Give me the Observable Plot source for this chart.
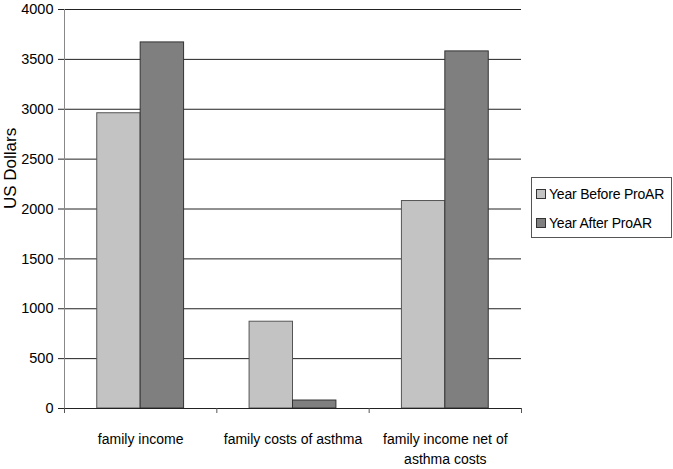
<!DOCTYPE html>
<html>
<head>
<meta charset="utf-8">
<script src="https://cdn.jsdelivr.net/npm/d3@7"></script>
<script src="https://cdn.jsdelivr.net/npm/@observablehq/plot@0.6"></script>
<style>
  html, body { margin: 0; padding: 0; background: #fff; }
  #wrap { position: relative; width: 673px; height: 469px; font-family: "Liberation Sans", Arial, sans-serif; }
  #legend { position: absolute; left: 531px; top: 177px; width: 141px; height: 61px; box-sizing: border-box; border: 1px solid #555; background: #fff; font-size: 14px; color: #000; }
  .item { position: absolute; left: 4px; display: flex; align-items: center; white-space: nowrap; line-height: 1; letter-spacing: -0.2px; }
  .sw { width: 8px; height: 8px; border: 1px solid #333; margin-right: 3px; }
</style>
</head>
<body>
<div id="wrap"></div>
<script>
const categories = ["family income", "family costs of asthma", "family income net of\nasthma costs"];
const seriesNames = ["Year Before ProAR", "Year After ProAR"];
const beforeValues = [2960, 870, 2080];
const afterValues = [3670, 80, 3580];
const yTicks = [0, 500, 1000, 1500, 2000, 2500, 3000, 3500, 4000];
const yLabel = "US Dollars";
const seriesFill = ["#c3c3c3", "#7f7f7f"];
const seriesStroke = ["#555", "#333"];

const barShare = 0.285; // fraction of a category band per bar
const rows = [];
categories.forEach((c, i) => {
  rows.push({cat: c, i, s: 0, value: beforeValues[i]});
  rows.push({cat: c, i, s: 1, value: afterValues[i]});
});

const font = '"Liberation Sans", Arial, sans-serif';
const chart = Plot.plot({
  width: 673,
  height: 469,
  marginLeft: 64,
  marginRight: 152,
  marginTop: 9,
  marginBottom: 61,
  style: {fontFamily: font, fontSize: "14px", color: "#000", background: "#fff"},
  x: {domain: [0, categories.length]},
  y: {domain: [0, 4000]},
  marks: [
    Plot.ruleY(yTicks.slice(1), {stroke: "#222", strokeWidth: 1}),
    Plot.rectY(rows, {
      x1: d => d.i + 0.5 - (d.s === 0 ? barShare : 0),
      x2: d => d.i + 0.5 + (d.s === 1 ? barShare : 0),
      y: "value",
      fill: d => seriesFill[d.s],
      stroke: d => seriesStroke[d.s],
      strokeWidth: 1
    }),
    Plot.ruleY([0], {stroke: "#222", strokeWidth: 1}),
    Plot.ruleX([0], {stroke: "#888", strokeWidth: 1}),
    Plot.axisX({ticks: d3.range(categories.length + 1), tickSize: 5, tickFormat: () => "", stroke: "#555", label: null}),
    Plot.axisY({ticks: yTicks, tickSize: 6, tickPadding: 5, stroke: "#222", tickFormat: d => String(d), label: null, fontSize: 14.5, fill: "#000"}),
    Plot.text([yLabel], {
      frameAnchor: "left",
      dx: -54,
      rotate: -90,
      text: d => d,
      fontSize: 17,
      fill: "#000"
    }),
    Plot.text(categories, {
      x: (d, i) => i + 0.5,
      frameAnchor: "bottom",
      lineAnchor: "top",
      dy: 21,
      lineHeight: 1.45,
      text: d => d,
      fontSize: 14,
      fill: "#000"
    })
  ]
});

const wrap = document.getElementById("wrap");
wrap.appendChild(chart);
const legend = document.createElement("div");
legend.id = "legend";
seriesNames.forEach((name, k) => {
  const item = document.createElement("div");
  item.className = "item";
  item.style.top = (k === 0 ? 9 : 38) + "px";
  const sw = document.createElement("span");
  sw.className = "sw";
  sw.style.background = seriesFill[k];
  item.appendChild(sw);
  item.appendChild(document.createTextNode(name));
  legend.appendChild(item);
});
wrap.appendChild(legend);
</script>
</body>
</html>
